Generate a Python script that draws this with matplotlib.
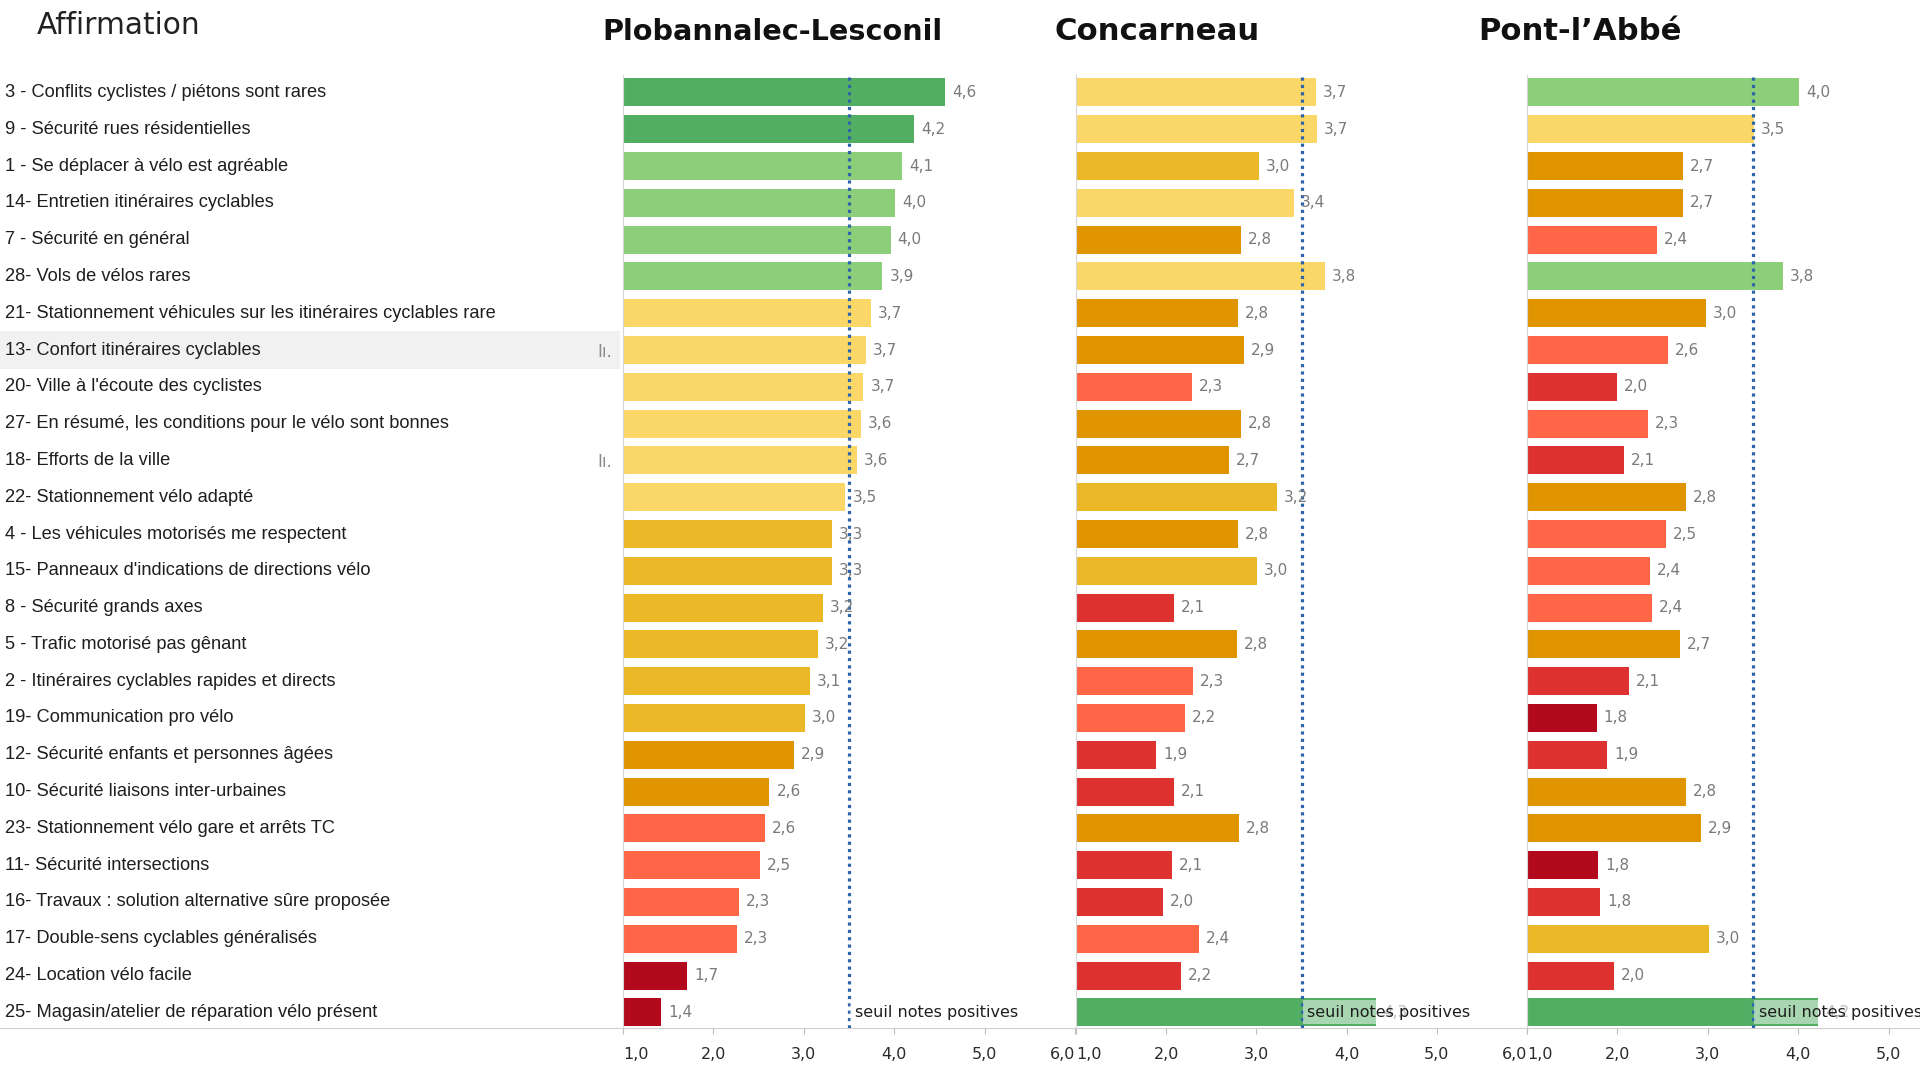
import matplotlib
matplotlib.use("Agg")
import matplotlib.pyplot as plt
import numpy as np

# ---------------- data ----------------
affirmations = [
    "3 - Conflits cyclistes / piétons sont rares",
    "9 - Sécurité rues résidentielles",
    "1 - Se déplacer à vélo est agréable",
    "14- Entretien itinéraires cyclables",
    "7 - Sécurité en général",
    "28- Vols de vélos rares",
    "21- Stationnement véhicules sur les itinéraires cyclables rare",
    "13- Confort itinéraires cyclables",
    "20- Ville à l'écoute des cyclistes",
    "27- En résumé, les conditions pour le vélo sont bonnes",
    "18- Efforts de la ville",
    "22- Stationnement vélo adapté",
    "4 - Les véhicules motorisés me respectent",
    "15- Panneaux d'indications de directions vélo",
    "8 - Sécurité grands axes",
    "5 - Trafic motorisé pas gênant",
    "2 - Itinéraires cyclables rapides et directs",
    "19- Communication pro vélo",
    "12- Sécurité enfants et personnes âgées",
    "10- Sécurité liaisons inter-urbaines",
    "23- Stationnement vélo gare et arrêts TC",
    "11- Sécurité intersections",
    "16- Travaux : solution alternative sûre proposée",
    "17- Double-sens cyclables généralisés",
    "24- Location vélo facile",
    "25- Magasin/atelier de réparation vélo présent",
]
cities = ["Plobannalec-Lesconil", "Concarneau", "Pont-l’Abbé"]
plobannalec = [4.56, 4.22, 4.09, 4.01, 3.96, 3.87, 3.74, 3.69, 3.66, 3.63, 3.59, 3.46, 3.31,
               3.31, 3.21, 3.16, 3.07, 3.01, 2.89, 2.62, 2.57, 2.51, 2.28, 2.26, 1.71, 1.42]
concarneau = [3.66, 3.67, 3.03, 3.42, 2.83, 3.76, 2.80, 2.86, 2.29, 2.83, 2.70, 3.23, 2.80,
              3.01, 2.09, 2.78, 2.30, 2.21, 1.89, 2.09, 2.81, 2.06, 1.96, 2.36, 2.16, 4.33]
pont_labbe = [4.01, 3.51, 2.73, 2.73, 2.44, 3.83, 2.98, 2.56, 2.00, 2.34, 2.07, 2.76, 2.54,
              2.36, 2.38, 2.69, 2.13, 1.77, 1.89, 2.76, 2.92, 1.79, 1.81, 3.01, 1.96, 4.22]
city_values = [plobannalec, concarneau, pont_labbe]
seuil = 3.5
seuil_label = "seuil notes positives"
x_ticks = [1, 2, 3, 4, 5, 6]
x_tick_labels = ["1,0", "2,0", "3,0", "4,0", "5,0", "6,0"]
bin_edges = [1.8, 2.2, 2.6, 3.0, 3.4, 3.8, 4.2]
bin_colors = ["#B20A1C", "#DE3230", "#FF6647", "#E09500", "#EBB928",
              "#FAD766", "#8DCE7A", "#52AE62"]
highlight_row = 7
icon_rows = [7, 10]

# ---------------- layout ----------------
W, H = 1920, 1071
fig = plt.figure(figsize=(W / 100, H / 100), dpi=100)
fig.patch.set_facecolor("white")
renderer = fig.canvas.get_renderer()


def px_box(x0, x1, ytop, ybot):
    return [x0 / W, 1 - ybot / H, (x1 - x0) / W, (ybot - ytop) / H]


def fit_width(txt, target):
    for _ in range(4):
        w = txt.get_window_extent(renderer).width
        txt.set_fontsize(txt.get_fontsize() * target / w)


AX_TOP, AX_BOT = 75, 1028
n = len(affirmations)
ylims = (n - 1 + 0.425, -0.475)

# label column
axL = fig.add_axes(px_box(0, 623, AX_TOP, AX_BOT))
axL.set_xlim(0, 623)
axL.set_ylim(*ylims)
axL.set_xticks([])
axL.set_yticks([])
for s in ["top", "right", "left"]:
    axL.spines[s].set_visible(False)
axL.spines["bottom"].set_color("#cfcfcf")
axL.axhspan(highlight_row - 0.52, highlight_row + 0.52, xmin=0, xmax=0.995,
            color="#f1f1f1", zorder=0, lw=0)
label_texts = []
for i, lab in enumerate(affirmations):
    t = axL.text(5, i, lab, ha="left", va="center", fontsize=12,
                 family="Liberation Sans", color="#1e1e1e")
    label_texts.append(t)
fit_width(label_texts[6], 488)
fs_lab = label_texts[6].get_fontsize()
for t in label_texts:
    t.set_fontsize(fs_lab)
for r in icon_rows:
    axL.text(597, r + 0.05, "Iı.", ha="left", va="center", fontsize=12,
             color="#8a8a8a", family="DejaVu Sans")

# panels
panel_x = [(623, 1075), (1076, 1527), (1527, 1979)]
for k, (vals, (x0, x1)) in enumerate(zip(city_values, panel_x)):
    ax = fig.add_axes(px_box(x0, x1, AX_TOP, AX_BOT))
    ax.set_facecolor("none")
    vals = np.array(vals)
    cols = [bin_colors[j] for j in np.digitize(vals, bin_edges)]
    y = np.arange(n)
    ax.barh(y, vals, height=0.76, color=cols, zorder=2)
    ax.set_xlim(1, 6)
    ax.set_ylim(*ylims)
    ax.axvline(seuil, color="#2E64AA", ls=(0, (1.0, 1.3)), lw=2.3, zorder=3)
    for i, v in enumerate(vals):
        ax.annotate(f"{v:.1f}".replace(".", ","), (v, i), xytext=(5, 0),
                    textcoords="offset points", ha="left", va="center",
                    fontsize=11, color="#7a7a7a", family="DejaVu Sans", zorder=4)
    ax.annotate(seuil_label, (seuil, n - 1), xytext=(4, 0),
                textcoords="offset points", ha="left", va="center",
                fontsize=11.5, color="#1e1e1e", family="DejaVu Sans", zorder=5,
                bbox=dict(boxstyle="square,pad=0.28", facecolor="white",
                          alpha=0.5, edgecolor="none"))
    ax.set_yticks([])
    ax.set_xticks(x_ticks)
    labels = list(x_tick_labels)
    if x1 > W:
        labels[-1] = ""
    ax.set_xticklabels(labels, fontsize=11.5, color="#2a2a2a",
                       family="DejaVu Sans")
    tl = ax.get_xticklabels()
    tl[0].set_horizontalalignment("left")
    tl[-1].set_horizontalalignment("right")
    ax.tick_params(axis="x", length=4, color="#bdbdbd", pad=10)
    for s in ["top", "right"]:
        ax.spines[s].set_visible(False)
    ax.spines["left"].set_color("#d6d6d6")
    ax.spines["bottom"].set_color("#cfcfcf")

# headers
t = fig.text(37 / W, 1 - 26 / H, "Affirmation", ha="left", va="center",
             fontsize=16, color="#222222", family="DejaVu Sans")
fit_width(t, 163)
title_pos = [(602, 341), (1055, 206), (1478, 203)]
for name, (x, w) in zip(cities, title_pos):
    tt = fig.text(x / W, 1 - 32 / H, name, ha="left", va="center",
                  fontsize=18, fontweight="bold", color="#111111",
                  family="DejaVu Sans")
    fit_width(tt, w)

fig.savefig("out.png", dpi=100, facecolor="white")
